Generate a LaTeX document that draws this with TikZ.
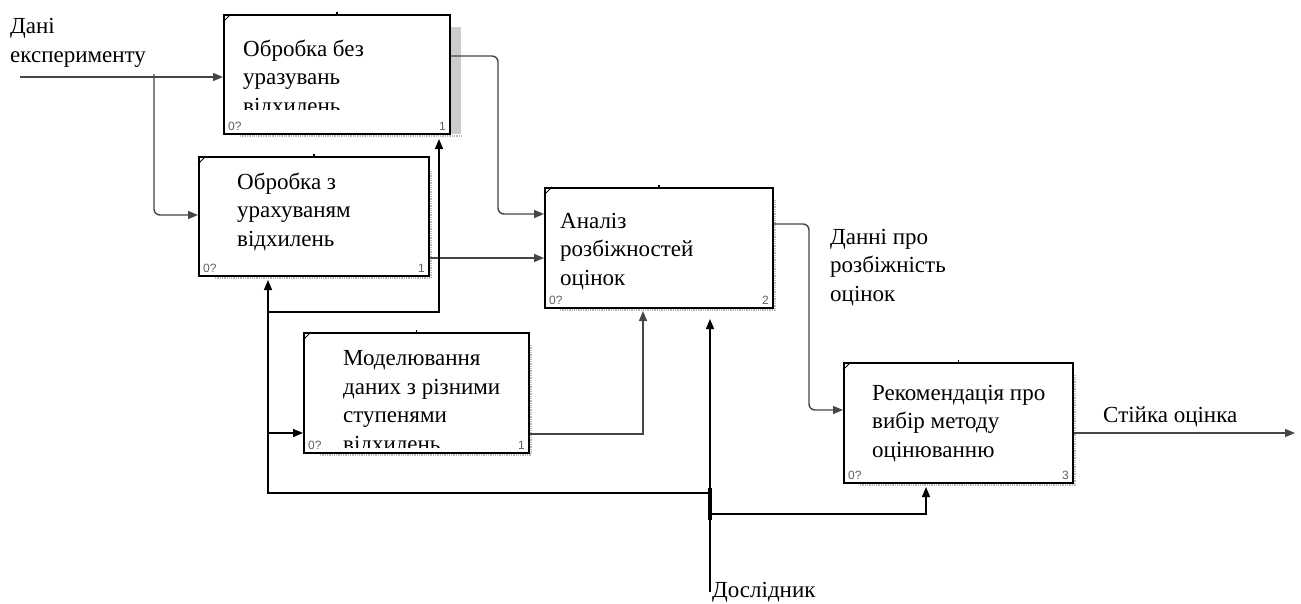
\documentclass[tikz,border=0pt]{standalone}
\usepackage{fontspec}
\setmainfont{Liberation Serif}
\newfontfamily\lserif{Liberation Serif}
\newfontfamily\numfont{Liberation Sans}
\usetikzlibrary{arrows.meta}
\tikzset{
  x=1pt, y=-1pt,
  box/.style={draw=black, line width=2pt, fill=white, minimum width=#1, anchor=north west, inner sep=0pt, minimum height=119pt},
  lbl/.style={font=\lserif\fontsize{23}{28.5}\selectfont, align=left, inner sep=0pt, anchor=base west},
  num/.style={font=\numfont\fontsize{12}{12}\selectfont, text=gray!75!black, inner sep=0pt},
  outln/.style={draw=gray!55!black, line width=1.4pt},
  ctrl/.style={draw=black, line width=1.4pt},
  tip/.style={-{Triangle[length=10pt,width=8pt]}},
  shad/.style={draw=gray!55, line width=1.3pt, densely dotted}
}
\begin{document}
\begin{tikzpicture}
\useasboundingbox (0,0) rectangle (1301,603);
\fill[white] (0,0) rectangle (1301,603);

% shadows
\fill[gray!40] (449,27) rectangle (461,134);
\draw[shad] (240,136) -- (462,136);
\draw[shad] (215,278) -- (431,278) -- (431,170);
\draw[shad] (560,310) -- (775,310) -- (775,200);
\draw[shad] (320,455) -- (531,455) -- (531,345);
\draw[shad] (860,485) -- (1075,485) -- (1075,375);

% boxes
\node[box=226pt] (b1) at (223,14) {};
\node[box=230pt] (b2) at (198,156) {};
\node[box=228pt, minimum height=120pt] (b3) at (544,187) {};
\node[box=225pt, minimum height=120pt] (b4) at (303,332) {};
\node[box=229pt, minimum height=120pt] (b5) at (843,362) {};

% corner ticks and top marks
\foreach \b in {b1,b2,b3,b4,b5}{
  \draw[line width=0.8pt] ([yshift=-8pt]\b.north west) -- ([xshift=8pt]\b.north west);
  \draw[line width=1.6pt] (\b.north) -- ([yshift=2pt]\b.north);
}

% box texts (anchored at the baseline of the last line)
\begin{scope}
\clip (224,15) rectangle (448,109);
\node[lbl] (t1) at (243,113) {Обробка без\\уразувань\\відхилень};
\end{scope}
\node[lbl] (t2) at (237,246) {Обробка з\\урахуваням\\відхилень};
\node[lbl] (t3) at (560,285) {Аналіз\\розбіжностей\\оцінок};
\begin{scope}
\clip (304,333) rectangle (527,447);
\node[lbl] (t4) at (343,451) {Моделювання\\даних з різними\\ступенями\\відхилень};
\end{scope}
\node[lbl] (t5) at (872,457) {Рекомендація про\\вибір методу\\оцінюванню};

% numbers
\foreach \b/\n in {b1/1,b2/1,b3/2,b4/1,b5/3}{
  \node[num, anchor=south west] (z\b) at ([xshift=5pt,yshift=4pt]\b.south west) {0?};
  \node[num, anchor=south east] (n\b) at ([xshift=-5pt,yshift=4pt]\b.south east) {\n};
}

% outer labels
\node[lbl] (ldani) at (10,62) {Дані\\експерименту};
\node[lbl] (lrozb) at (830,301) {Данні про\\розбіжність\\оцінок};
\node[lbl] (lst) at (1103,422) {Стійка оцінка};
\node[lbl] (ldos) at (712,597) {Дослідник};

% coordinates
\coordinate (in) at (20,77);
\coordinate (br) at (154,77);
\coordinate (out) at (1295,433);
\coordinate (dos) at (710,592);
\coordinate (jl) at (710,493);
\coordinate (jr) at (710,514);
\coordinate (cl) at (268,493);

% inputs / outputs
\draw[outln, tip] (in) -- (b1.west |- in);
\draw[outln, tip, rounded corners=6pt] ([yshift=3pt]br) -- (154,215) -- (b2.west |- 0,215);
\draw[outln, tip, rounded corners=6pt] (b1.east |- 0,56) -- (498,56) -- (498,214) -- (b3.west |- 0,214);
\draw[outln, tip] (b2.east |- 0,258) -- (b3.west |- 0,258);
\draw[outln, tip, rounded corners=6pt] (b3.east |- 0,224) -- (809,224) -- (809,410) -- (b5.west |- 0,410);
\draw[outln, tip] (b4.east |- 0,434) -- (643,434) -- ([yshift=-2pt]b3.south -| 643,0);
\draw[outln, tip] (b5.east |- out) -- (out);

% controls
\draw[ctrl, tip] (dos) -- ([yshift=-10pt]b3.south -| dos);
\draw[ctrl, tip] (jl) -- (cl) -- ([yshift=-3pt]b2.south -| cl);
\draw[ctrl, tip] (268,433) -- (b4.west |- 0,433);
\draw[ctrl, tip] (268,312) -- (439,312) -- ([yshift=-4pt]b1.south -| 439,0);
\draw[ctrl, tip] (jr) -- (926,514) -- ([yshift=-3pt]b5.south -| 926,0);
\draw[line width=3.5pt] (710,488) -- (710,520);
\end{tikzpicture}
\end{document}
